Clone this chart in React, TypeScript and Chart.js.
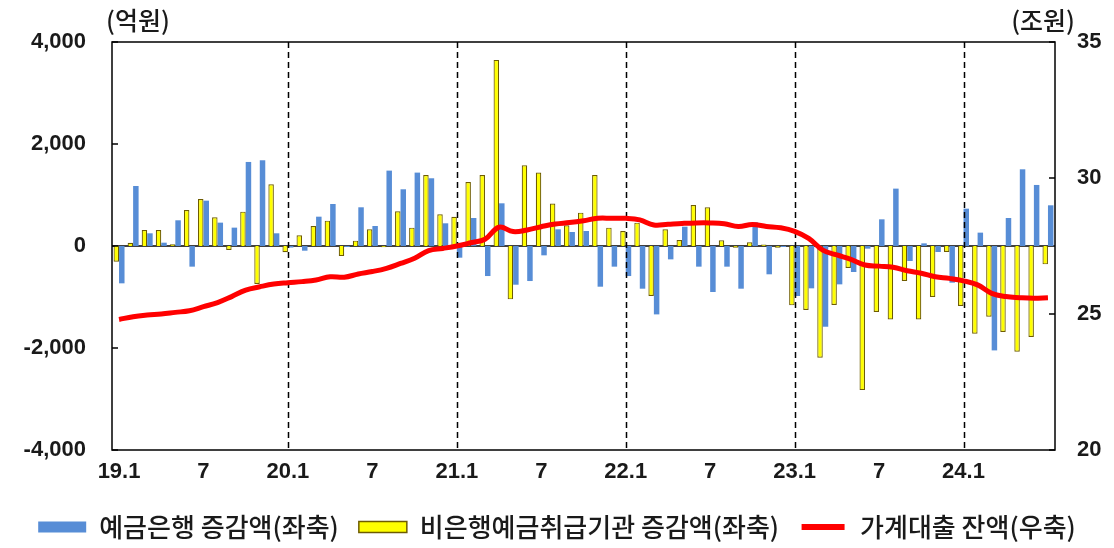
import React, { useEffect, useRef } from 'react';
import { Chart, registerables } from 'chart.js';

Chart.register(...registerables);

// ---- data ----
const categories = [
  '19.1','19.2','19.3','19.4','19.5','19.6','19.7','19.8','19.9','19.10','19.11','19.12',
  '20.1','20.2','20.3','20.4','20.5','20.6','20.7','20.8','20.9','20.10','20.11','20.12',
  '21.1','21.2','21.3','21.4','21.5','21.6','21.7','21.8','21.9','21.10','21.11','21.12',
  '22.1','22.2','22.3','22.4','22.5','22.6','22.7','22.8','22.9','22.10','22.11','22.12',
  '23.1','23.2','23.3','23.4','23.5','23.6','23.7','23.8','23.9','23.10','23.11','23.12',
  '24.1','24.2','24.3','24.4','24.5','24.6','24.7',
];

const xTickLabels = ['19.1','7','20.1','7','21.1','7','22.1','7','23.1','7','24.1'];
const xTickEvery = 6;
const yearStartCategories = ['20.1','21.1','22.1','23.1','24.1'];

const seriesNames = ['예금은행 증감액(좌축)', '비은행예금취급기관 증감액(좌축)', '가계대출 잔액(우축)'];
const leftUnit = '(억원)';
const rightUnit = '(조원)';

// 예금은행 증감액 (억원)
const bankChange = [
  -732, 1177, 249, 65, 504, -405, 889, 458, 360, 1648, 1681, 249,
  -30, -92, 575, 824, -20, 759, 392, 1478, 1112, 1439, 1328, 445,
  -229, 549, -589, 837, -759, -687, -183, 327, 275, 294, -798, -405,
  -589, -837, -1341, -262, 379, -405, -902, -405, -837, 465, -555, -20,
  -981, -830, -1583, -752, -510, -52, 523, 1125, -294, 52, -118, -719,
  732, 262, -2047, 549, 1504, 1197, 798,
];

// 비은행예금취급기관 증감액 (억원)
const nonBankChange = [
  -307, 65, 314, 314, 33, 706, 922, 562, -78, 674, -745, 1210,
  -124, 209, 392, 497, -196, 105, 327, -26, 680, 360, 1393, 621,
  575, 1256, 1393, 3649, -1046, 1583, 1439, 831, 405, 654, 1393, 360,
  294, 458, -981, 327, 118, 804, 759, 111, -33, 72, 28, -33,
  -1164, -1256, -2191, -1158, -432, -2825, -1295, -1439, -687, -1439, -1001, -118,
  -1177, -1720, -1386, -1687, -2073, -1785, -360,
];

// 가계대출 잔액 (조원)
const householdLoans = [
  24.80, 24.90, 24.96, 25.00, 25.06, 25.12, 25.27, 25.42, 25.64, 25.88, 26.00, 26.10,
  26.15, 26.19, 26.25, 26.37, 26.35, 26.47, 26.56, 26.68, 26.86, 27.05, 27.33, 27.41,
  27.50, 27.62, 27.75, 28.19, 28.03, 28.09, 28.21, 28.31, 28.36, 28.43, 28.52, 28.52,
  28.52, 28.46, 28.27, 28.30, 28.33, 28.35, 28.35, 28.32, 28.22, 28.29, 28.22, 28.17,
  28.04, 27.78, 27.35, 27.17, 27.01, 26.80, 26.76, 26.72, 26.59, 26.50, 26.37, 26.31,
  26.22, 26.07, 25.76, 25.64, 25.60, 25.58, 25.60,
];

const leftTicks = { min: -4000, max: 4000, step: 2000 };
const rightTicks = { min: 20, max: 35, step: 5 };

// ---- styles ----
const BLUE = '#578dd6';
const YELLOW = '#ffff00';
const YELLOW_BORDER = '#6e5c00';
const RED = '#ff0000';
const TEXT = '#1a1a1a';
const NUM_FONT = "'Liberation Sans', Arial, sans-serif";
const KR_FONT = "'Noto Sans CJK KR', 'Noto Sans', sans-serif";

export default function App() {
  const ref = useRef<HTMLCanvasElement>(null);

  useEffect(() => {
    const canvas = ref.current;
    if (!canvas) return;

    const overlay = {
      id: 'overlay',
      beforeDatasetsDraw(chart: any) {
        const { ctx, chartArea } = chart;
        const y = chart.scales.y;
        const y0 = y.getPixelForValue(0);
        ctx.save();
        ctx.strokeStyle = '#000';
        ctx.lineWidth = 1.5;
        ctx.beginPath();
        ctx.moveTo(chartArea.left, y0);
        ctx.lineTo(chartArea.right, y0);
        ctx.stroke();
        ctx.restore();
      },
      afterDatasetDraw(chart: any, args: any) {
        if (args.index !== 1) return;
        const { ctx, chartArea } = chart;
        const x = chart.scales.x;
        ctx.save();
        ctx.strokeStyle = '#000';
        ctx.lineWidth = 1.5;
        ctx.setLineDash([6, 4]);
        yearStartCategories.forEach((c) => {
          const idx = categories.indexOf(c);
          const px = Math.round(x.getPixelForValue(idx)) + 0.5;
          ctx.beginPath();
          ctx.moveTo(px, chartArea.top);
          ctx.lineTo(px, chartArea.bottom);
          ctx.stroke();
        });
        ctx.restore();
      },
      afterDraw(chart: any) {
        const { ctx, chartArea } = chart;
        ctx.save();
        ctx.strokeStyle = '#000';
        ctx.lineWidth = 1.5;
        ctx.setLineDash([]);
        ctx.strokeRect(chartArea.left, chartArea.top, chartArea.right - chartArea.left, chartArea.bottom - chartArea.top);
        // inward tick marks
        const yl = chart.scales.y;
        const yr = chart.scales.y1;
        yl.ticks.forEach((t: any) => {
          const py = yl.getPixelForValue(t.value);
          ctx.beginPath();
          ctx.moveTo(chartArea.left, py);
          ctx.lineTo(chartArea.left + 6, py);
          ctx.stroke();
        });
        yr.ticks.forEach((t: any) => {
          const py = yr.getPixelForValue(t.value);
          ctx.beginPath();
          ctx.moveTo(chartArea.right - 6, py);
          ctx.lineTo(chartArea.right, py);
          ctx.stroke();
        });
        // unit labels
        ctx.fillStyle = TEXT;
        ctx.font = `500 25px ${KR_FONT}`;
        ctx.textBaseline = 'middle';
        ctx.textAlign = 'left';
        ctx.fillText(leftUnit, chartArea.left - 6, chartArea.top - 22);
        ctx.textAlign = 'right';
        ctx.fillText(rightUnit, chartArea.right + 20, chartArea.top - 22);
        ctx.restore();
      },
    };

    const tickFont = { family: NUM_FONT, size: 22, weight: 'bold' as const };

    const chart = new Chart(canvas, {
      type: 'bar',
      data: {
        labels: categories,
        datasets: [
          {
            type: 'bar',
            label: seriesNames[0],
            data: bankChange,
            backgroundColor: BLUE,
            borderWidth: 0,
            yAxisID: 'y',
            order: 2,
            categoryPercentage: 0.78,
            barPercentage: 1,
          },
          {
            type: 'bar',
            label: seriesNames[1],
            data: nonBankChange,
            backgroundColor: YELLOW,
            borderColor: YELLOW_BORDER,
            borderWidth: 1.2,
            yAxisID: 'y',
            order: 1,
            categoryPercentage: 0.78,
            barPercentage: 1,
          },
          {
            type: 'line',
            label: seriesNames[2],
            data: householdLoans,
            borderColor: RED,
            backgroundColor: RED,
            borderWidth: 5,
            pointRadius: 0,
            tension: 0.4,
            yAxisID: 'y1',
            order: 0,
          },
        ] as any,
      },
      options: {
        responsive: true,
        maintainAspectRatio: false,
        animation: false,
        layout: { padding: { top: 42, left: 0, right: 0, bottom: -2 } },
        plugins: {
          tooltip: { enabled: false },
          legend: {
            position: 'bottom',
            labels: {
              boxWidth: 48,
              boxHeight: 11,
              padding: 20,
              color: TEXT,
              font: { family: KR_FONT, size: 26, weight: '500' },
              generateLabels: () => [
                { text: seriesNames[0], fillStyle: BLUE, strokeStyle: BLUE, lineWidth: 0, hidden: false, datasetIndex: 0, fontColor: TEXT },
                { text: seriesNames[1], fillStyle: YELLOW, strokeStyle: YELLOW_BORDER, lineWidth: 1.5, hidden: false, datasetIndex: 1, fontColor: TEXT },
                { text: seriesNames[2], fillStyle: RED, strokeStyle: '#ffffff', lineWidth: 5, hidden: false, datasetIndex: 2, fontColor: TEXT },
              ] as any,
            },
          },
        },
        scales: {
          x: {
            grid: { display: false, drawTicks: false },
            border: { display: false },
            ticks: {
              autoSkip: false,
              maxRotation: 0,
              minRotation: 0,
              padding: 9,
              color: TEXT,
              font: tickFont,
              callback: (_v: any, i: number) => (i % xTickEvery === 0 ? xTickLabels[i / xTickEvery] : ''),
            },
            afterFit: (s: any) => { s.height = 44; },
          },
          y: {
            position: 'left',
            min: leftTicks.min,
            max: leftTicks.max,
            grid: { display: false, drawTicks: false },
            border: { display: false },
            ticks: {
              stepSize: leftTicks.step,
              padding: 26,
              color: TEXT,
              font: tickFont,
              callback: (v: any) => Number(v).toLocaleString('en-US'),
            },
            afterFit: (s: any) => { s.width = 112; },
          },
          y1: {
            position: 'right',
            min: rightTicks.min,
            max: rightTicks.max,
            grid: { display: false, drawTicks: false },
            border: { display: false },
            ticks: {
              stepSize: rightTicks.step,
              padding: 22,
              color: TEXT,
              font: tickFont,
            },
            afterFit: (s: any) => { s.width = 59; },
          },
        },
      } as any,
      plugins: [overlay],
    });

    return () => chart.destroy();
  }, []);

  return (
    <div style={{ position: 'fixed', left: 0, top: 0, width: 1114, height: 548, background: '#fff' }}>
      <canvas ref={ref} />
    </div>
  );
}
